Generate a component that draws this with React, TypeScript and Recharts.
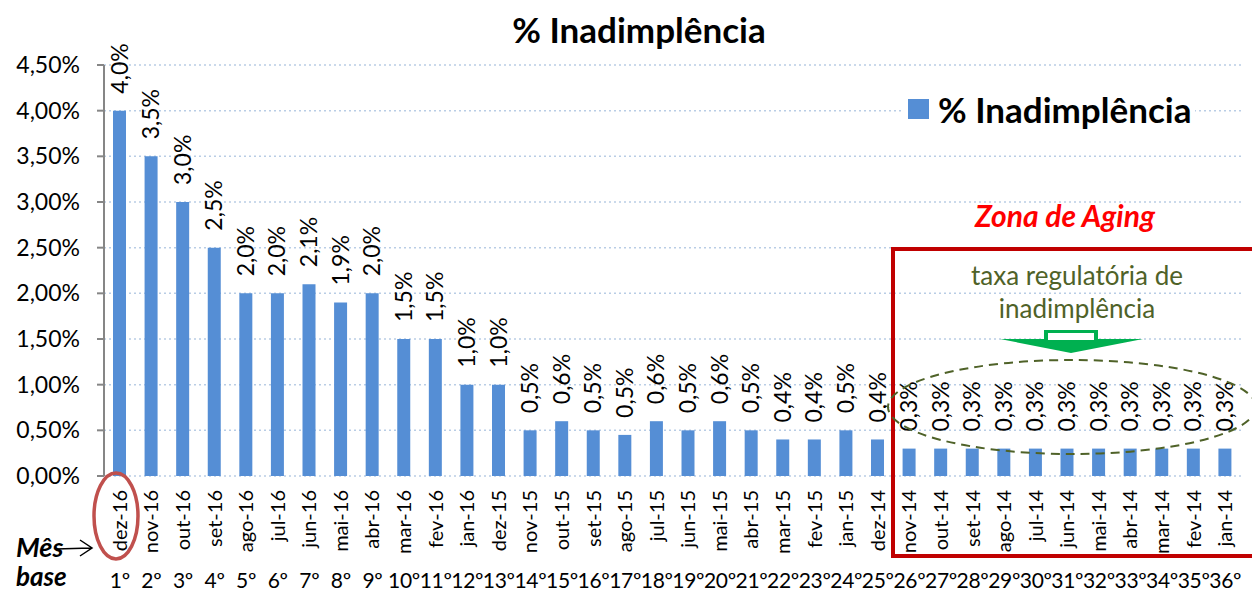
import React from "react";
import { BarChart, Bar, XAxis, YAxis, CartesianGrid, LabelList, Legend } from "recharts";

const months = [
  "dez-16", "nov-16", "out-16", "set-16", "ago-16", "jul-16", "jun-16", "mai-16", "abr-16", "mar-16",
  "fev-16", "jan-16", "dez-15", "nov-15", "out-15", "set-15", "ago-15", "jul-15", "jun-15", "mai-15",
  "abr-15", "mar-15", "fev-15", "jan-15", "dez-14", "nov-14", "out-14", "set-14", "ago-14", "jul-14",
  "jun-14", "mai-14", "abr-14", "mar-14", "fev-14", "jan-14",
];

const ordinals = [
  "1º", "2º", "3º", "4º", "5º", "6º", "7º", "8º", "9º", "10º", "11º", "12º",
  "13º", "14º", "15º", "16º", "17º", "18º", "19º", "20º", "21º", "22º", "23º", "24º",
  "25º", "26º", "27º", "28º", "29º", "30º", "31º", "32º", "33º", "34º", "35º", "36º",
];

// % inadimplência por mês
const inadimplencia = [
  4.0, 3.5, 3.0, 2.5, 2.0, 2.0, 2.1, 1.9, 2.0, 1.5,
  1.5, 1.0, 1.0, 0.5, 0.6, 0.5, 0.45, 0.6, 0.5, 0.6,
  0.5, 0.4, 0.4, 0.5, 0.4, 0.3, 0.3, 0.3, 0.3, 0.3,
  0.3, 0.3, 0.3, 0.3, 0.3, 0.3,
];

const yTicks = [0, 0.5, 1, 1.5, 2, 2.5, 3, 3.5, 4, 4.5];

const data = months.map((m, i) => ({ month: m, ord: ordinals[i], value: inadimplencia[i] }));

const FONT = "Lato, 'Open Sans', sans-serif";
const BAR = "#558ed5";

const MonthTick = (props: any) => {
  const { x, y, index } = props;
  return (
    <g>
      <text
        transform={`translate(${x},${y + 14}) rotate(-90)`}
        textAnchor="end"
        dy="0.35em"
        fontSize={20}
        fontFamily={FONT}
        fill="#000"
      >
        {months[index]}
      </text>
      <text x={x} y={y + 112} textAnchor="middle" fontSize={21} fontFamily={FONT} letterSpacing={-0.3} fill="#000">
        {ordinals[index]}
      </text>
    </g>
  );
};

const BarLabel = (props: any) => {
  const { x, y, width, value } = props;
  const txt = (Math.round(value * 10) / 10).toFixed(1).replace(".", ",") + "%";
  return (
    <text
      transform={`translate(${x + width / 2},${y - 17}) rotate(-90)`}
      textAnchor="start"
      dy="0.35em"
      fontSize={23}
      fontFamily={FONT}
      fill="#000"
    >
      {txt}
    </text>
  );
};

const LegendBox = () => (
  <div style={{ display: "flex", alignItems: "center", background: "#fff", padding: "0 4px", fontFamily: FONT }}>
    <span style={{ width: 21, height: 20, background: BAR, display: "inline-block", marginRight: 9 }} />
    <span style={{ fontSize: 35, fontWeight: 700, color: "#000", lineHeight: "42px" }}>% Inadimplência</span>
  </div>
);

export default function App() {
  return (
    <div style={{ position: "absolute", left: 0, top: 0, width: 1252, height: 595, background: "#fff", overflow: "hidden" }}>
      <BarChart width={1252} height={595} data={data} margin={{ top: 65, right: 11, left: 0, bottom: 0 }}>
        <CartesianGrid vertical={false} stroke="#b9cde5" strokeDasharray="2 3" strokeWidth={1.5} />
        <XAxis
          dataKey="month"
          interval={0}
          height={119}
          axisLine={false}
          tickLine={false}
          tickSize={0}
          tickMargin={0}
          tick={<MonthTick />}
        />
        <YAxis
          domain={[0, 4.5]}
          ticks={yTicks}
          width={104}
          tickSize={7}
          tickMargin={17}
          axisLine={{ stroke: "#868686", strokeWidth: 2 }}
          tickLine={{ stroke: "#868686", strokeWidth: 2 }}
          tick={{ fill: "#000", fontSize: 23, fontFamily: FONT }}
          tickFormatter={(v: number) => v.toFixed(2).replace(".", ",") + "%"}
        />
        <Legend
          layout="horizontal"
          verticalAlign="middle"
          align="center"
          content={<LegendBox />}
          wrapperStyle={{ top: 88, left: 904, width: "auto" }}
        />
        <Bar dataKey="value" name="% Inadimplência" fill={BAR} barSize={13} isAnimationActive={false}>
          <LabelList dataKey="value" content={<BarLabel />} />
        </Bar>
      </BarChart>
      <svg
        width={1252}
        height={595}
        style={{ position: "absolute", left: 0, top: 0, pointerEvents: "none" }}
      >
        <text x={639} y={43} textAnchor="middle" fontSize={35} fontWeight={700} fontFamily={FONT} fill="#000">
          % Inadimplência
        </text>
        {/* zona de aging */}
        <text x={1065} y={227} textAnchor="middle" fontSize={30} fontWeight={700} fontStyle="italic" fontFamily={FONT} fill="#ff0000">
          Zona de Aging
        </text>
        <polyline points="1262,249 893,249 893,556 1262,556" fill="none" stroke="#c00000" strokeWidth={4} />
        <text x={1077} y={285} textAnchor="middle" fontSize={26} fontFamily={FONT} fill="#4f6228">
          taxa regulatória de
        </text>
        <text x={1077} y={318} textAnchor="middle" fontSize={26} fontFamily={FONT} fill="#4f6228">
          inadimplência
        </text>
        <polygon points="1044,330 1098,330 1098,339 1143,339 1071,353 1000,339 1044,339" fill="#00b050" />
        <rect x={1048} y={333} width={46} height={7} fill="#fff" />
        <ellipse cx={1072} cy={407} rx={184} ry={47} fill="none" stroke="#4f6228" strokeWidth={2} strokeDasharray="9 6" />
        {/* mês base */}
        <ellipse cx={116} cy={516} rx={22} ry={43} fill="none" stroke="#c0504d" strokeWidth={3.5} />
        <text x={16} y={557} fontSize={27} fontWeight={700} fontStyle="italic" fontFamily={FONT} fill="#000">
          Mês
        </text>
        <text x={16} y={586} fontSize={26} fontWeight={700} fontStyle="italic" fontFamily={FONT} fill="#000">
          base
        </text>
        <path d="M56,549 L91,548 M80,540 L92,548 L80,556" fill="none" stroke="#000" strokeWidth={1.5} />
      </svg>
    </div>
  );
}
